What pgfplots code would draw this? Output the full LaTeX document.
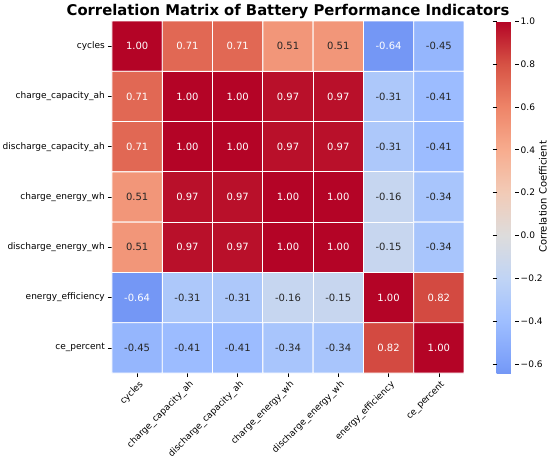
\documentclass[border=0pt]{standalone}
\usepackage{pgfplots}
\pgfplotsset{compat=1.18}
\usepackage{fontspec}
\setmainfont{DejaVu Sans}
\pgfplotsset{
  colormap={cw}{
    rgb255(0pt)=(116,151,245)
    rgb255(4pt)=(123,159,249)
    rgb255(24pt)=(158,190,255)
    rgb255(44pt)=(192,212,245)
    rgb255(64pt)=(221,220,220)
    rgb255(84pt)=(242,203,183)
    rgb255(104pt)=(247,172,142)
    rgb255(124pt)=(238,132,104)
    rgb255(144pt)=(214,82,68)
    rgb255(164pt)=(180,4,38)
  }
}
\begin{document}
\begin{tikzpicture}
\path[use as bounding box] (0,0) rectangle (550pt,461pt);
\begin{axis}[
  at={(112pt,88pt)}, anchor=south west,
  width=352pt, height=352pt, scale only axis,
  clip=false,
  colormap name=cw,
  point meta min=-0.64, point meta max=1,
  xmin=-0.5, xmax=6.5, ymin=-0.5, ymax=6.5,
  y dir=reverse,
  axis line style={draw=none},
  xtick={0,...,6}, ytick={0,...,6},
  xticklabels={cycles,charge\_capacity\_ah,discharge\_capacity\_ah,charge\_energy\_wh,discharge\_energy\_wh,energy\_efficiency,ce\_percent},
  yticklabels={cycles,charge\_capacity\_ah,discharge\_capacity\_ah,charge\_energy\_wh,discharge\_energy\_wh,energy\_efficiency,ce\_percent},
  xtick pos=bottom, ytick pos=left,
  tick align=outside, major tick length=4pt,
  tick style={black, line width=0.6pt},
  ticklabel style={font=\fontsize{9}{10}\selectfont},
  xticklabel style={rotate=45, anchor=north east, inner sep=1pt, yshift=-2pt},
  yticklabel style={inner sep=1pt, xshift=-2pt},
  every axis title shift=0pt,
  title={\bfseries Correlation Matrix of Battery Performance Indicators},
  title style={font=\fontsize{14.8}{16}\selectfont, at={(0.5,1)}, anchor=base, yshift=6pt},
  colorbar,
  colorbar style={
    at={(parent axis.north east)}, anchor=north west, xshift=24pt,
    width=18pt, height=352pt, scale only axis,
    axis line style={draw=none},
    ytick={-0.6,-0.4,-0.2,0,0.2,0.4,0.6,0.8,1.0},
    yticklabels={−0.6,−0.4,−0.2,0.0,0.2,0.4,0.6,0.8,1.0},
    tick align=outside, major tick length=4pt,
    tick style={black, line width=0.6pt},
    yticklabel style={font=\fontsize{9}{10}\selectfont, inner sep=1pt, xshift=1pt},
  },
]
\addplot[matrix plot*, mesh/cols=7, point meta=explicit, draw=white, line width=0.8pt] table[meta=c] {
x y c
0 0 1.00
1 0 0.71
2 0 0.71
3 0 0.51
4 0 0.51
5 0 -0.64
6 0 -0.45
0 1 0.71
1 1 1.00
2 1 1.00
3 1 0.97
4 1 0.97
5 1 -0.31
6 1 -0.41
0 2 0.71
1 2 1.00
2 2 1.00
3 2 0.97
4 2 0.97
5 2 -0.31
6 2 -0.41
0 3 0.51
1 3 0.97
2 3 0.97
3 3 1.00
4 3 1.00
5 3 -0.16
6 3 -0.34
0 4 0.51
1 4 0.97
2 4 0.97
3 4 1.00
4 4 1.00
5 4 -0.15
6 4 -0.34
0 5 -0.64
1 5 -0.31
2 5 -0.31
3 5 -0.16
4 5 -0.15
5 5 1.00
6 5 0.82
0 6 -0.45
1 6 -0.41
2 6 -0.41
3 6 -0.34
4 6 -0.34
5 6 0.82
6 6 1.00
};
% white annotations
\addplot[only marks, mark=none, nodes near coords, point meta=explicit symbolic,
  every node near coord/.style={anchor=center, text=white, font=\fontsize{10}{12}\selectfont}] table[meta=t] {
x y t
0 0 1.00
1 0 0.71
2 0 0.71
5 0 -0.64
0 1 0.71
1 1 1.00
2 1 1.00
3 1 0.97
4 1 0.97
0 2 0.71
1 2 1.00
2 2 1.00
3 2 0.97
4 2 0.97
1 3 0.97
2 3 0.97
3 3 1.00
4 3 1.00
1 4 0.97
2 4 0.97
3 4 1.00
4 4 1.00
0 5 -0.64
5 5 1.00
6 5 0.82
5 6 0.82
6 6 1.00
};
% dark annotations
\addplot[only marks, mark=none, nodes near coords, point meta=explicit symbolic,
  every node near coord/.style={anchor=center, text=black!85, font=\fontsize{10}{12}\selectfont}] table[meta=t] {
x y t
3 0 0.51
4 0 0.51
6 0 -0.45
5 1 -0.31
6 1 -0.41
5 2 -0.31
6 2 -0.41
0 3 0.51
5 3 -0.16
6 3 -0.34
0 4 0.51
5 4 -0.15
6 4 -0.34
1 5 -0.31
2 5 -0.31
3 5 -0.16
4 5 -0.15
0 6 -0.45
1 6 -0.41
2 6 -0.41
3 6 -0.34
4 6 -0.34
};
\node[rotate=90, font=\fontsize{10}{12}\selectfont, inner sep=0pt] at (axis description cs:1.2244,0.5) {Correlation Coefficient};
\end{axis}
\end{tikzpicture}
\end{document}
